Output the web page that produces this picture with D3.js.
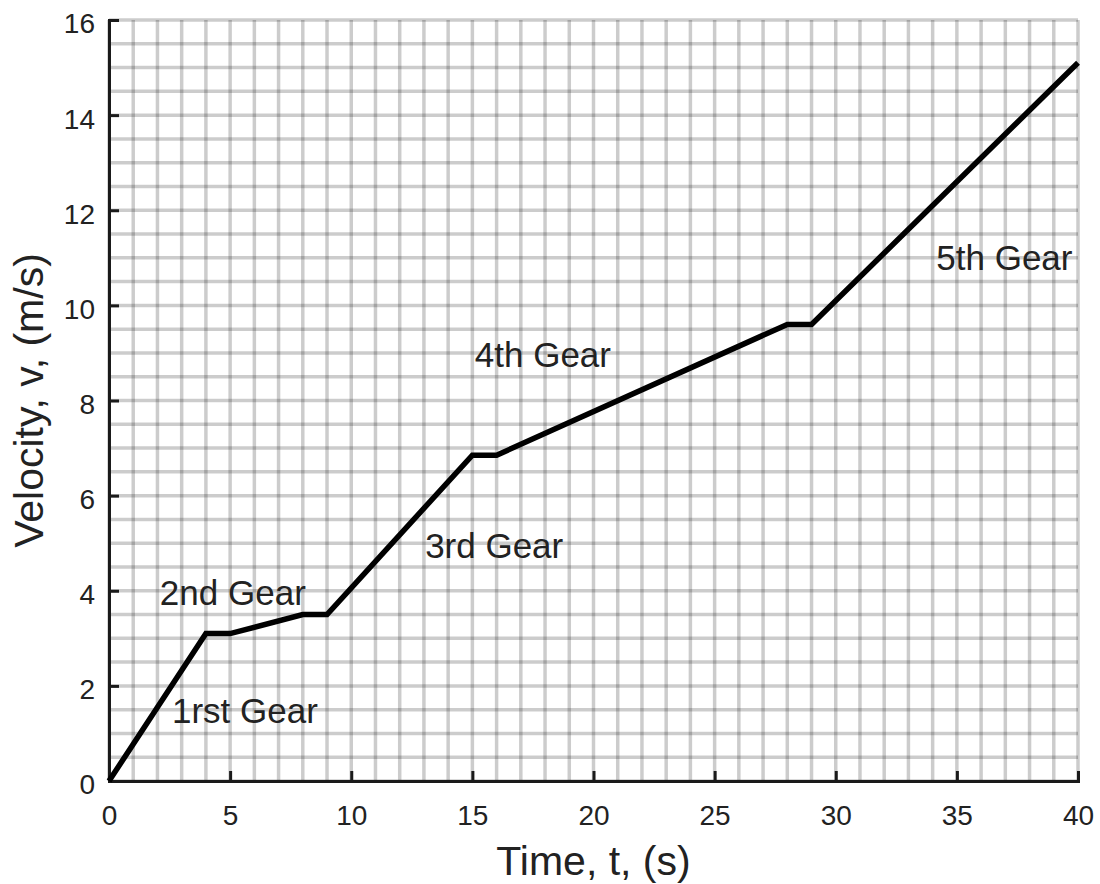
<!DOCTYPE html>
<html>
<head>
<meta charset="utf-8">
<script src="https://cdn.jsdelivr.net/npm/d3@7"></script>
<style>
	body { margin: 0; background: #fff; }
	text { font-family: "Liberation Sans", Arial, sans-serif; fill: #222; }
</style>
</head>
<body>
<svg id="svg"></svg>
<script>
// gear shift profile
const time = [0, 4, 5, 8, 9, 15, 16, 28, 29, 40]
const velocity = [0, 3.1, 3.1, 3.5, 3.5, 6.85, 6.85, 9.6, 9.6, 15.1]

const gearNames = ['1rst Gear', '2nd Gear', '3rd Gear', '4th Gear', '5th Gear']
const gearX = [2.6, 2.1, 13.05, 15.1, 34.15]
const gearY = [1.22, 3.7, 4.69, 8.7, 10.74]

const xTicks = [0, 5, 10, 15, 20, 25, 30, 35, 40]
const yTicks = [0, 2, 4, 6, 8, 10, 12, 14, 16]

const margin = {top: 20, right: 22, bottom: 103, left: 109},
	width = 1100 - margin.left - margin.right,
	height = 884 - margin.top - margin.bottom;

const x = d3.scaleLinear().domain([0, 40]).range([0, width])
const y = d3.scaleLinear().domain([0, 16]).range([height, 0])

const svg = d3.select('#svg')
	.attr('width', 1100)
	.attr('height', 884)
	.append('g')
	.attr('transform', `translate(${margin.left},${margin.top})`)

// minor grid: every 1 s and every 0.5 m/s
const grid = svg.append('g').attr('stroke', '#000').attr('stroke-opacity', 0.2).attr('stroke-width', 3.5)
grid.selectAll('line.gx')
	.data(d3.range(0, 41, 1)).enter()
	.append('line')
	.attr('x1', d => x(d)).attr('x2', d => x(d))
	.attr('y1', 0).attr('y2', height)
grid.selectAll('line.gy')
	.data(d3.range(0, 16.01, 0.5)).enter()
	.append('line')
	.attr('y1', d => y(d)).attr('y2', d => y(d))
	.attr('x1', 0).attr('x2', width)

// axes, ticks pointing inward
svg.append('g')
	.attr('transform', `translate(0,${height})`)
	.call(d3.axisTop(x).tickValues(xTicks).tickSize(10).tickFormat(''))
const xLabels = svg.append('g')
	.attr('transform', `translate(0,${height})`)
	.call(d3.axisBottom(x).tickValues(xTicks).tickSize(0).tickPadding(24))
xLabels.select('.domain').remove()

svg.append('g')
	.call(d3.axisRight(y).tickValues(yTicks).tickSize(10).tickFormat(''))
const yLabels = svg.append('g')
	.call(d3.axisLeft(y).tickValues(yTicks).tickSize(0).tickPadding(14))
yLabels.select('.domain').remove()

svg.selectAll('.domain').attr('stroke', '#1a1a1a').attr('stroke-width', 3)
svg.selectAll('.tick line').attr('stroke', '#1a1a1a').attr('stroke-width', 3)
svg.selectAll('.tick text')
	.attr('font-family', '"Liberation Sans", Arial, sans-serif')
	.attr('font-size', 28)
	.attr('fill', '#2a2a2a')
yLabels.selectAll('.tick text').attr('dy', '0.46em')

// the speed curve
const line = d3.line()
	.x((d, i) => x(time[i]))
	.y(d => y(d))

svg.append('path')
	.datum(velocity)
	.attr('d', line)
	.attr('fill', 'none')
	.attr('stroke', '#000')
	.attr('stroke-width', 5.5)
	.attr('stroke-linejoin', 'miter')

// gear annotations
svg.selectAll('text.gear')
	.data(gearNames).enter()
	.append('text')
	.attr('class', 'gear')
	.attr('x', (d, i) => x(gearX[i]))
	.attr('y', (d, i) => y(gearY[i]))
	.attr('font-size', 35)
	.attr('fill', '#111')
	.text(d => d)

// axis titles
svg.append('text')
	.attr('x', width / 2)
	.attr('y', height + 94)
	.attr('text-anchor', 'middle')
	.attr('font-size', 41)
	.text('Time, t, (s)')

svg.append('text')
	.attr('transform', `translate(-66,${height / 2}) rotate(-90)`)
	.attr('text-anchor', 'middle')
	.attr('font-size', 41)
	.text('Velocity, v, (m/s)')
</script>
</body>
</html>
